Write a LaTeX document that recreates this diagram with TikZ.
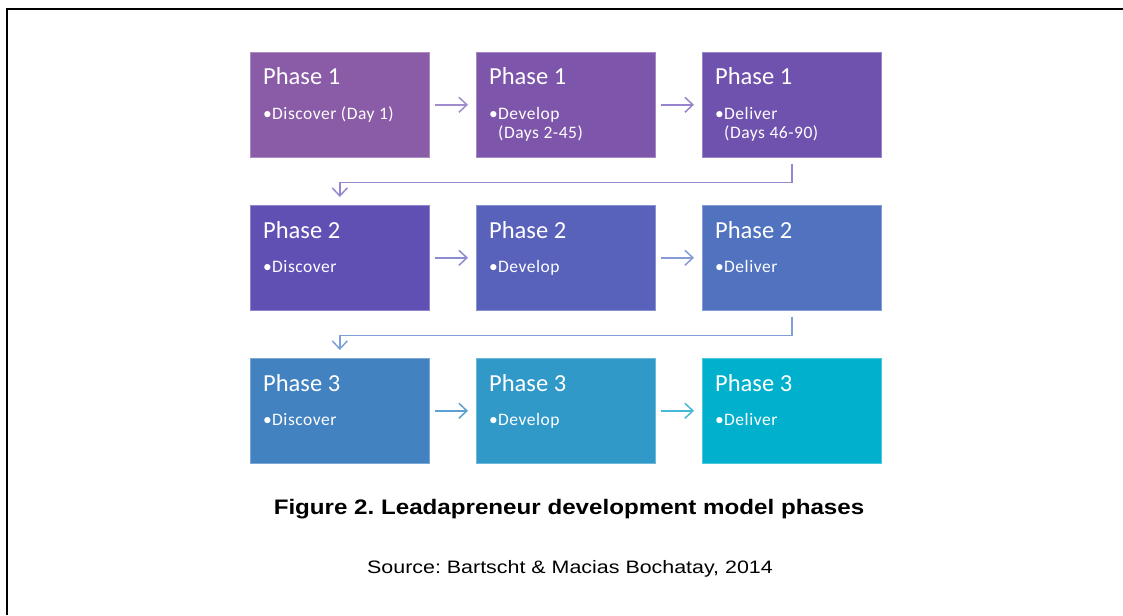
\documentclass[tikz,border=0pt]{standalone}
\usepackage{fontspec}
\setmainfont{Carlito}
\newfontfamily\capfont[FakeStretch=1.15]{Liberation Sans}
\newfontfamily\srcfont[FakeStretch=1.19]{Liberation Sans}
\newfontfamily\bulfont[LetterSpace=3]{Carlito}
\usetikzlibrary{arrows.meta,calc}
\definecolor{cA}{RGB}{138,91,166}
\definecolor{cB}{RGB}{125,85,171}
\definecolor{cC}{RGB}{111,82,173}
\definecolor{cD}{RGB}{97,80,180}
\definecolor{cE}{RGB}{88,98,186}
\definecolor{cF}{RGB}{80,114,191}
\definecolor{cG}{RGB}{66,130,193}
\definecolor{cH}{RGB}{48,153,200}
\definecolor{cI}{RGB}{0,176,204}
\definecolor{aA}{RGB}{160,140,204}
\definecolor{aB}{RGB}{150,132,206}
\definecolor{aC}{RGB}{152,135,206}
\definecolor{aD}{RGB}{140,140,212}
\definecolor{aE}{RGB}{135,155,215}
\definecolor{aF}{RGB}{125,160,216}
\definecolor{aG}{RGB}{90,160,210}
\definecolor{aH}{RGB}{70,185,215}
\tikzset{
  phasebox/.style={fill=#1, draw=#1!70!white, line width=0.6pt, minimum width=179pt, minimum height=105pt, anchor=north west, inner sep=0pt},
  ttl/.style={anchor=base west, text=white, font=\fontsize{24.5}{26}\selectfont, inner sep=0pt},
  bul/.style={anchor=base west, text=white, font=\bulfont\fontsize{17.5}{20}\selectfont, inner sep=0pt},
  arr/.style={draw=#1, line width=1.5pt, -{Straight Barb[length=8pt,width=15pt,line width=1.5pt]}},
}
\newcommand{\phasecell}[7]{%
  % #1 name, #2 x, #3 y, #4 colour, #5 title, #6 first bullet line, #7 second line
  \node[phasebox=#4] (#1) at (#2pt,-#3pt) {};
  \node[ttl] (#1t) at ($(#1.north west)+(13pt,-33pt)$) {#5};
  \node[bul] (#1b) at ($(#1.north west)+(13pt,-67pt)$) {•};
  \node[bul] (#1c) at ($(#1.north west)+(22pt,-67pt)$) {#6};
  \node[bul] (#1d) at ($(#1.north west)+(22pt,-87pt)$) {#7};
}
\begin{document}
\begin{tikzpicture}[x=1pt,y=-1pt]
\useasboundingbox (0,0) rectangle (1123,615);
\fill[white] (0,0) rectangle (1123,615);
\draw[line width=2pt] (7,615) -- (7,9) -- (1123,9);

\phasecell{b11}{250}{52}{cA}{Phase 1}{Discover (Day 1)}{}
\phasecell{b12}{476}{52}{cB}{Phase 1}{Develop}{(Days 2-45)}
\phasecell{b13}{702}{52}{cC}{Phase 1}{Deliver}{(Days 46-90)}
\phasecell{b21}{250}{205}{cD}{Phase 2}{Discover}{}
\phasecell{b22}{476}{205}{cE}{Phase 2}{Develop}{}
\phasecell{b23}{702}{205}{cF}{Phase 2}{Deliver}{}
\phasecell{b31}{250}{358}{cG}{Phase 3}{Discover}{}
\phasecell{b32}{476}{358}{cH}{Phase 3}{Develop}{}
\phasecell{b33}{702}{358}{cI}{Phase 3}{Deliver}{}

\draw[arr=aA] ([xshift=5pt]b11.east) -- ([xshift=-8pt]b12.west);
\draw[arr=aB] ([xshift=5pt]b12.east) -- ([xshift=-8pt]b13.west);
\draw[arr=aD] ([xshift=5pt]b21.east) -- ([xshift=-8pt]b22.west);
\draw[arr=aE] ([xshift=5pt]b22.east) -- ([xshift=-8pt]b23.west);
\draw[arr=aG] ([xshift=5pt]b31.east) -- ([xshift=-8pt]b32.west);
\draw[arr=aH] ([xshift=5pt]b32.east) -- ([xshift=-8pt]b33.west);

\draw[arr=aC] ([yshift=-6pt]b13.south) -- ([yshift=-25pt]b13.south) -| ([yshift=8pt]b21.north);
\draw[arr=aF] ([yshift=-6pt]b23.south) -- ([yshift=-25pt]b23.south) -| ([yshift=8pt]b31.north);

\node[anchor=base, font=\capfont\bfseries\frenchspacing\fontsize{21}{24}\selectfont, inner sep=0pt] (cap) at (569,514) {Figure 2. Leadapreneur development model phases};
\node[anchor=base, font=\srcfont\frenchspacing\fontsize{18}{21}\selectfont, inner sep=0pt] (src) at (570,573) {Source: Bartscht \& Macias Bochatay, 2014};
\end{tikzpicture}
\end{document}
